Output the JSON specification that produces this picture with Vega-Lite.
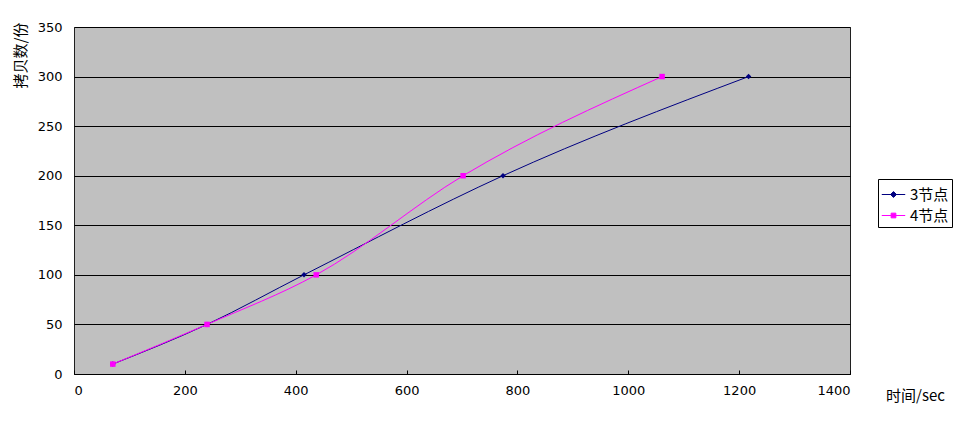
{
  "$schema": "https://vega.github.io/schema/vega-lite/v6.json",
  "width": 776,
  "height": 347,
  "autosize": "none",
  "padding": {"left": 74, "top": 27, "right": 119, "bottom": 70},
  "background": "white",
  "config": {
    "view": {"fill": "#C0C0C0", "stroke": "#202020", "strokeWidth": 1},
    "font": "Noto Sans CJK SC",
    "axis": {"labelFont": "DejaVu Sans", "labelFontSize": 13, "labelColor": "black", "titleColor": "black", "titleFontWeight": "normal", "titleFont": "Noto Sans CJK SC", "titleFontSize": 15, "format": "d"}
  },
  "data": {
    "values": [
      {"t": 70, "n": 10, "s": "3节点"},
      {"t": 240, "n": 50, "s": "3节点"},
      {"t": 415, "n": 100, "s": "3节点"},
      {"t": 774, "n": 200, "s": "3节点"},
      {"t": 1217, "n": 300, "s": "3节点"},
      {"t": 70, "n": 10, "s": "4节点"},
      {"t": 240, "n": 50, "s": "4节点"},
      {"t": 437, "n": 100, "s": "4节点"},
      {"t": 702, "n": 200, "s": "4节点"},
      {"t": 1061, "n": 300, "s": "4节点"}
    ]
  },
  "encoding": {
    "x": {
      "field": "t", "type": "quantitative",
      "scale": {"domain": [0, 1400], "nice": false, "zero": true},
      "axis": {"values": [0, 200, 400, 600, 800, 1000, 1200, 1400], "grid": false, "tickSize": -4, "tickColor": "black", "domainColor": "black", "labelPadding": 14, "title": "时间/sec", "titleX": 841, "titleY": 21, "titleAlign": "center", "titleBaseline": "middle"}
    },
    "y": {
      "field": "n", "type": "quantitative",
      "scale": {"domain": [0, 350], "nice": false},
      "axis": {"values": [0, 50, 100, 150, 200, 250, 300, 350], "grid": true, "gridColor": "black", "gridOpacity": 1, "gridWidth": 1, "ticks": false, "domain": false, "labelPadding": 12, "title": "拷贝数/份", "titleAngle": -90, "titleX": -54, "titleY": 28, "titleAlign": "center", "titleBaseline": "middle"}
    },
    "color": {
      "field": "s", "type": "nominal",
      "scale": {"domain": ["3节点", "4节点"], "range": ["#000080", "#FF00FF"]},
      "legend": {
        "title": null, "orient": "none", "legendX": 804, "legendY": 152,
        "strokeColor": "black", "fillColor": "white", "padding": 3,
        "labelFont": "Noto Sans CJK SC", "labelFontSize": 15, "labelColor": "black",
        "symbolSize": 550, "symbolStrokeWidth": 1, "rowPadding": 0, "labelOffset": 4,
        "symbolType": "M-1,0H1M-0.25,-0.25H0.25V0.25H-0.25Z",
        "encode": {"symbols": {"update": {"shape": {"signal": "datum.value == '3节点' ? 'M-1,0H1M-0.25,0L0,-0.25L0.25,0L0,0.25Z' : 'M-1,0H1M-0.2,-0.2H0.2V0.2H-0.2Z'"}}}}
      }
    }
  },
  "layer": [
    {"mark": {"type": "line", "interpolate": "monotone", "strokeWidth": 1}},
    {"transform": [{"filter": "datum.s == '3节点'"}], "mark": {"type": "point", "filled": true, "size": 30, "opacity": 1, "shape": "diamond"}},
    {"transform": [{"filter": "datum.s == '4节点'"}], "mark": {"type": "point", "filled": true, "size": 30, "opacity": 1, "shape": "square"}}
  ]
}
